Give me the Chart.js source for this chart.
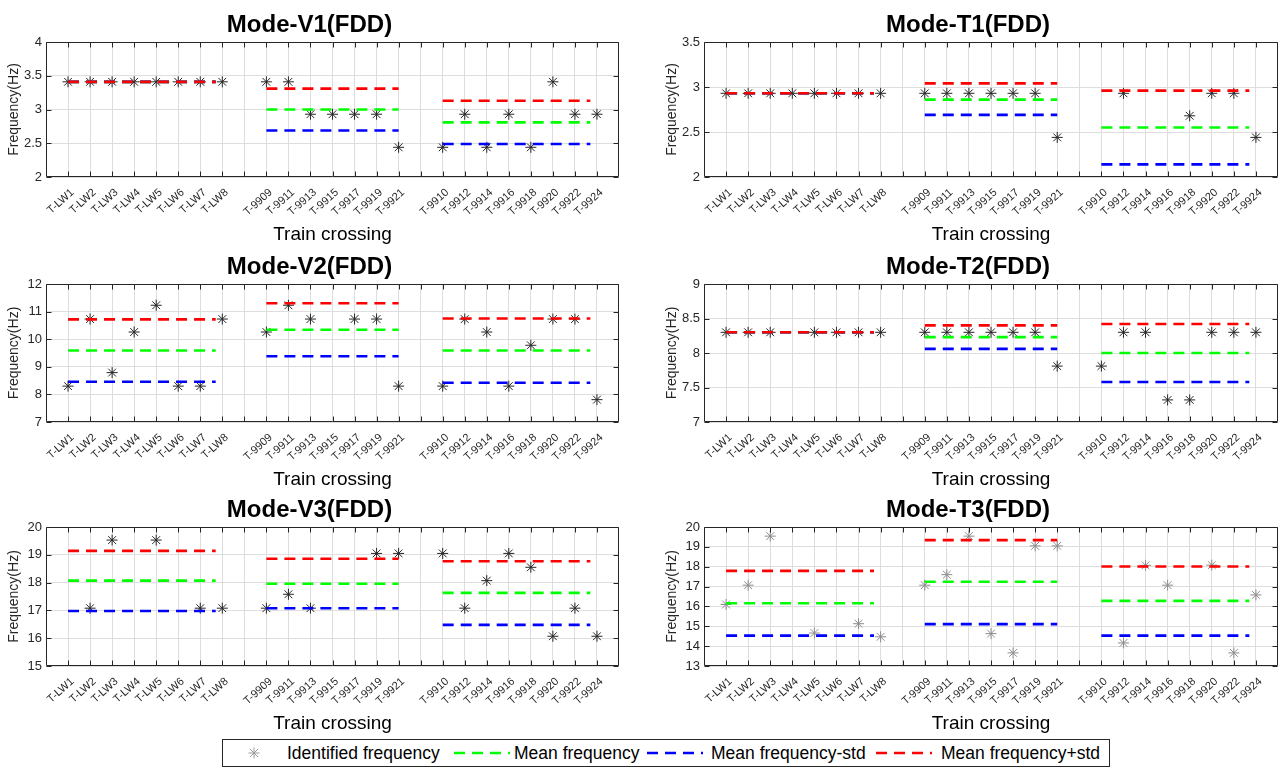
<!DOCTYPE html>
<html>
<head>
<meta charset="utf-8">
<title>Mode frequencies (FDD)</title>
<script src="https://cdn.jsdelivr.net/npm/chart.js@4.4.1/dist/chart.umd.min.js"></script>
<style>
  html, body { margin: 0; padding: 0; background: #fff; }
  body {
    width: 1287px; height: 768px; position: relative; overflow: hidden;
    font-family: "Liberation Sans", Arial, Helvetica, sans-serif;
  }
  .panel { position: absolute; }
  .legend {
    position: absolute; left: 222px; top: 739px; width: 886px; height: 26px;
    border: 1px solid #262626; background: #fff;
  }
  .legend span {
    position: absolute; top: 0; line-height: 26px; font-size: 17.5px; color: #000; white-space: nowrap;
  }
  .legend svg { position: absolute; }
</style>
</head>
<body>

<div class="panel" style="left:0;top:0;width:640px;height:246px"><canvas id="c-v1"></canvas></div>
<div class="panel" style="left:658px;top:0;width:629px;height:246px"><canvas id="c-t1"></canvas></div>
<div class="panel" style="left:0;top:242px;width:640px;height:249px"><canvas id="c-v2"></canvas></div>
<div class="panel" style="left:658px;top:242px;width:629px;height:249px"><canvas id="c-t2"></canvas></div>
<div class="panel" style="left:0;top:485px;width:640px;height:250px"><canvas id="c-v3"></canvas></div>
<div class="panel" style="left:658px;top:485px;width:629px;height:250px"><canvas id="c-t3"></canvas></div>

<div class="legend">
  <svg style="left:25px;top:7px" width="12" height="12" viewBox="0 0 12 12">
    <g stroke="#9a9a9a" stroke-width="1">
      <line x1="6" y1="0.5" x2="6" y2="11.5"/><line x1="0.5" y1="6" x2="11.5" y2="6"/>
      <line x1="2" y1="2" x2="10" y2="10"/><line x1="10" y1="2" x2="2" y2="10"/>
    </g>
  </svg>
  <span style="left:64px">Identified frequency</span>
  <svg style="left:231px;top:11px" width="56" height="4"><line x1="0" y1="2" x2="56" y2="2" stroke="#00ff00" stroke-width="2.6" stroke-dasharray="11 7"/></svg>
  <span style="left:291px">Mean frequency</span>
  <svg style="left:424px;top:11px" width="56" height="4"><line x1="0" y1="2" x2="56" y2="2" stroke="#0000ff" stroke-width="2.6" stroke-dasharray="11 7"/></svg>
  <span style="left:488px">Mean frequency-std</span>
  <svg style="left:653px;top:11px" width="56" height="4"><line x1="0" y1="2" x2="56" y2="2" stroke="#ff0000" stroke-width="2.6" stroke-dasharray="11 7"/></svg>
  <span style="left:718px">Mean frequency+std</span>
</div>

<script>
// Train crossings (positions 1..25, blank = gap between groups)
const xLabels = [
    'T-LW1', 'T-LW2', 'T-LW3', 'T-LW4', 'T-LW5', 'T-LW6', 'T-LW7', 'T-LW8', '',
    'T-9909', 'T-9911', 'T-9913', 'T-9915', 'T-9917', 'T-9919', 'T-9921', '',
    'T-9910', 'T-9912', 'T-9914', 'T-9916', 'T-9918', 'T-9920', 'T-9922', 'T-9924'
];

// x extent of the mean lines for each group
const groupStart = [1, 10, 18];
const groupEnd = [7.7, 16, 24.7];

// Identified frequencies (Hz), null = not identified / gap
const v1Freq = [3.41, 3.41, 3.41, 3.41, 3.41, 3.41, 3.41, 3.41, null,
    3.41, 3.41, 2.93, 2.93, 2.93, 2.93, 2.44, null,
    2.44, 2.93, 2.44, 2.93, 2.44, 3.41, 2.93, 2.93];
const v1Mean = [3.41, 3.00, 2.81];
const v1Lower = [3.41, 2.69, 2.49];
const v1Upper = [3.41, 3.31, 3.13];

const t1Freq = [2.93, 2.93, 2.93, 2.93, 2.93, 2.93, 2.93, 2.93, null,
    2.93, 2.93, 2.93, 2.93, 2.93, 2.93, 2.44, null,
    null, 2.93, null, null, 2.68, 2.93, 2.93, 2.44];
const t1Mean = [2.93, 2.86, 2.55];
const t1Lower = [2.93, 2.69, 2.14];
const t1Upper = [2.93, 3.04, 2.96];

const v2Freq = [8.30, 10.73, 8.79, 10.26, 11.23, 8.30, 8.30, 10.73, null,
    10.26, 11.23, 10.73, null, 10.73, 10.73, 8.30, null,
    8.30, 10.73, 10.26, 8.30, 9.78, 10.73, 10.73, 7.81];
const v2Mean = [9.59, 10.34, 9.59];
const v2Lower = [8.46, 9.38, 8.42];
const v2Upper = [10.72, 11.30, 10.75];

const t2Freq = [8.30, 8.30, 8.30, null, 8.30, 8.30, 8.30, 8.30, null,
    8.30, 8.30, 8.30, 8.30, 8.30, 8.30, 7.81, null,
    7.81, 8.30, 8.30, 7.32, 7.32, 8.30, 8.30, 8.30];
const t2Mean = [8.30, 8.23, 8.00];
const t2Lower = [8.30, 8.06, 7.58];
const t2Upper = [8.30, 8.40, 8.42];

const v3Freq = [null, 17.08, 19.53, null, 19.53, null, 17.08, 17.08, null,
    17.08, 17.58, 17.08, null, null, 19.05, 19.05, null,
    19.05, 17.08, 18.07, 19.05, 18.55, 16.07, 17.08, 16.07];
const v3Mean = [18.07, 17.96, 17.63];
const v3Lower = [16.98, 17.08, 16.48];
const v3Upper = [19.14, 18.86, 18.77];

const t3Freq = [16.10, 17.07, 19.54, null, 14.66, null, 15.13, 14.47, null,
    17.07, 17.60, 19.54, 14.63, 13.66, 19.05, 19.05, null,
    null, 14.16, 18.07, 17.07, null, 18.08, 13.66, 16.58];
const t3Mean = [16.16, 17.24, 16.28];
const t3Lower = [14.53, 15.11, 14.53];
const t3Upper = [17.79, 19.34, 18.01];

const FONT = '"Liberation Sans", Arial, Helvetica, sans-serif';
const AXIS_COLOR = '#262626';
const GRID_COLOR = '#dedede';

const panels = [
    { id: 'c-v1', title: 'Mode-V1(FDD)', freq: v1Freq, mean: v1Mean, lower: v1Lower, upper: v1Upper, min: 2, max: 4, step: 0.5, star: '#262626', padRight: 21 },
    { id: 'c-t1', title: 'Mode-T1(FDD)', freq: t1Freq, mean: t1Mean, lower: t1Lower, upper: t1Upper, min: 2, max: 3.5, step: 0.5, star: '#262626', padRight: 9 },
    { id: 'c-v2', title: 'Mode-V2(FDD)', freq: v2Freq, mean: v2Mean, lower: v2Lower, upper: v2Upper, min: 7, max: 12, step: 1, star: '#262626', padRight: 21 },
    { id: 'c-t2', title: 'Mode-T2(FDD)', freq: t2Freq, mean: t2Mean, lower: t2Lower, upper: t2Upper, min: 7, max: 9, step: 0.5, star: '#262626', padRight: 9 },
    { id: 'c-v3', title: 'Mode-V3(FDD)', freq: v3Freq, mean: v3Mean, lower: v3Lower, upper: v3Upper, min: 15, max: 20, step: 1, star: '#262626', padRight: 21 },
    { id: 'c-t3', title: 'Mode-T3(FDD)', freq: t3Freq, mean: t3Mean, lower: t3Lower, upper: t3Upper, min: 13, max: 20, step: 1, star: '#8c8c8c', padRight: 9 }
];

// Box around the axes plus inward tick marks, MATLAB style
const frameTicks = {
    id: 'frameTicks',
    afterDraw(chart) {
        const { ctx, chartArea: a, scales: { x, y } } = chart;
        const L = Math.round(a.left) + 0.5, R = Math.round(a.right) - 0.5;
        const T = Math.round(a.top) + 0.5, B = Math.round(a.bottom) - 0.5;
        ctx.save();
        ctx.strokeStyle = AXIS_COLOR;
        ctx.lineWidth = 1;
        ctx.beginPath();
        x.ticks.forEach(t => {
            const px = Math.round(x.getPixelForValue(t.value)) + 0.5;
            ctx.moveTo(px, B); ctx.lineTo(px, B - 5);
            ctx.moveTo(px, T); ctx.lineTo(px, T + 5);
        });
        y.ticks.forEach(t => {
            const py = Math.round(y.getPixelForValue(t.value)) + 0.5;
            ctx.moveTo(L, py); ctx.lineTo(L + 5, py);
            ctx.moveTo(R, py); ctx.lineTo(R - 5, py);
        });
        ctx.rect(L, T, R - L, B - T);
        ctx.stroke();
        ctx.restore();
    }
};

function starPoints(freq) {
    return freq.map((v, i) => ({ x: i + 1, y: v })).filter(p => p.y !== null);
}

function levelPoints(levels) {
    const pts = [];
    levels.forEach((v, g) => {
        if (g > 0) pts.push({ x: groupStart[g] - 1, y: null });
        pts.push({ x: groupStart[g], y: v }, { x: groupEnd[g], y: v });
    });
    return pts;
}

function levelDataset(label, levels, color, order) {
    return {
        label: label,
        data: levelPoints(levels),
        showLine: true,
        spanGaps: false,
        borderColor: color,
        borderWidth: 2.6,
        borderDash: [11, 7],
        pointRadius: 0,
        fill: false,
        order: order
    };
}

function buildPanel(p) {
    new Chart(document.getElementById(p.id), {
        type: 'scatter',
        data: {
            datasets: [
                {
                    label: 'Identified frequency',
                    data: starPoints(p.freq),
                    pointStyle: 'star',
                    pointRadius: 5.5,
                    borderColor: p.star,
                    backgroundColor: 'rgba(0,0,0,0)',
                    borderWidth: 1,
                    order: 3
                },
                levelDataset('Mean frequency', p.mean, '#00ff00', 2),
                levelDataset('Mean frequency-std', p.lower, '#0000ff', 1),
                levelDataset('Mean frequency+std', p.upper, '#ff0000', 0)
            ]
        },
        options: {
            responsive: true,
            maintainAspectRatio: false,
            animation: false,
            events: [],
            layout: { padding: { left: 0, right: p.padRight, top: 0, bottom: 0 } },
            plugins: {
                legend: { display: false },
                tooltip: { enabled: false },
                title: {
                    display: true,
                    text: p.title,
                    color: '#000',
                    font: { family: FONT, size: 24, weight: 'bold' },
                    padding: { top: 11, bottom: 2.2 }
                }
            },
            scales: {
                x: {
                    type: 'linear',
                    min: 0,
                    max: 26,
                    afterBuildTicks: s => { s.ticks = xLabels.map((_, i) => ({ value: i + 1 })); },
                    afterFit: s => { s.height = 69; s.paddingLeft = 0; s.paddingRight = 0; },
                    grid: { color: GRID_COLOR, drawTicks: false },
                    border: { display: false },
                    ticks: {
                        autoSkip: false,
                        minRotation: 42,
                        maxRotation: 42,
                        padding: 9,
                        labelOffset: 4.5,
                        color: AXIS_COLOR,
                        font: { family: FONT, size: 11 },
                        callback: v => xLabels[v - 1] || ''
                    },
                    title: {
                        display: true,
                        text: 'Train crossing',
                        color: '#000',
                        font: { family: FONT, size: 19 },
                        padding: { top: 0, bottom: 0 }
                    }
                },
                y: {
                    min: p.min,
                    max: p.max,
                    afterFit: s => { s.width = 46; s.paddingTop = 0; s.paddingBottom = 0; },
                    grid: { color: GRID_COLOR, drawTicks: false },
                    border: { display: false },
                    ticks: {
                        stepSize: p.step,
                        padding: 4,
                        color: AXIS_COLOR,
                        font: { family: FONT, size: 13 },
                        callback: v => String(+v.toFixed(2))
                    },
                    title: {
                        display: true,
                        text: 'Frequency(Hz)',
                        color: AXIS_COLOR,
                        font: { family: FONT, size: 14 },
                        padding: { top: 6, bottom: 0 }
                    }
                }
            }
        },
        plugins: [frameTicks]
    });
}

panels.forEach(buildPanel);
</script>
</body>
</html>
